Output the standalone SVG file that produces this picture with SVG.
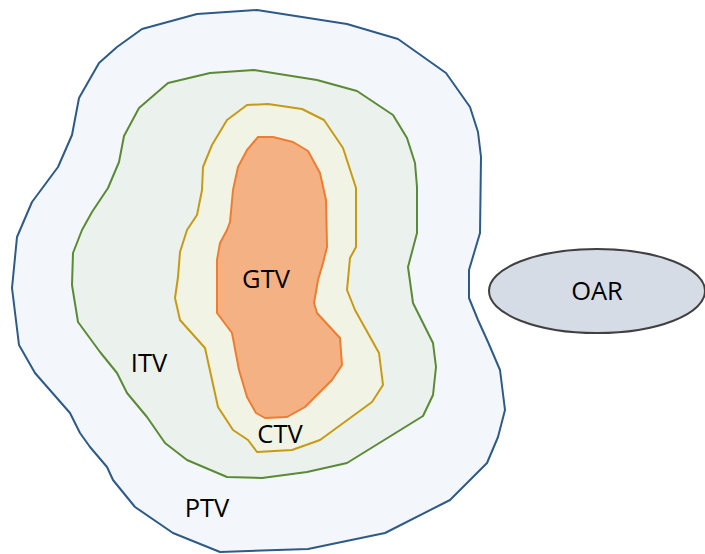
<svg xmlns="http://www.w3.org/2000/svg" width="705" height="554" viewBox="0 0 705 554">
<style>
.vol{stroke-width:2;stroke-linejoin:round}
.lbl{font-family:"Open Sans","Liberation Sans",sans-serif;font-size:25.5px;fill:#000;text-anchor:middle}
</style>
<rect width="705" height="554" fill="#fff"/>
<g id="PTV">
<polygon class="vol" fill="#f3f7fb" stroke="#2e5a87" points="197,14 257,10 347,24 398,39 446,73 470,107 478,132 481,157 480,233 469,270 469,298 478,320 488,342 500,370 505,410 498,437 487,463 450,500 385,533 308,549 220,552 173,533 135,507 113,480 107,467 90,447 80,433 70,413 35,373 19,345 12,288 17,237 32,202 58,167 72,135 79,98 99,63 117,47 142,29"/>
<text class="lbl" x="207" y="517">PTV</text>
</g>
<g id="ITV">
<polygon class="vol" fill="#ebf1ec" stroke="#5b8a36" points="210,73 254,70 317,80 357,91 393,115 407,138 415,163 417,187 417,233 408,267 413,303 433,343 436,367 433,395 423,416 347,463 307,472 262,478 227,477 187,460 165,443 147,417 127,393 117,373 100,352 78,322 72,285 73,253 82,230 92,212 108,188 119,162 124,136 139,108 168,83"/>
<text class="lbl" x="149" y="372">ITV</text>
</g>
<g id="CTV">
<polygon class="vol" fill="#f1f4e5" stroke="#c79a14" points="247,105 268,104 302,109 324,120 343,148 356,188 356,247 350,258 347,290 355,310 379,353 383,385 372,402 320,440 292,450 257,452 248,440 233,430 218,407 205,348 180,320 175,298 178,277 180,252 187,230 197,215 202,190 203,167 212,145 227,120"/>
<text class="lbl" x="280" y="443">CTV</text>
</g>
<g id="GTV">
<polygon class="vol" fill="#f4b183" stroke="#ed7d31" points="258,137 273,137 293,142 308,151 320,173 326,200 327,247 323,263 318,280 314,303 317,313 340,338 342,365 332,380 305,407 287,417 265,418 256,413 247,397 239,370 232,333 217,313 217,270 217,260 220,243 227,230 230,222 233,190 238,167 247,150"/>
<text class="lbl" x="266" y="288">GTV</text>
</g>
<g id="OAR">
<ellipse cx="597" cy="291" rx="108" ry="42" fill="#d6dce5" stroke="#404040" stroke-width="2"/>
<text class="lbl" x="597" y="300">OAR</text>
</g>
<g id="connectors"></g>
</svg>
